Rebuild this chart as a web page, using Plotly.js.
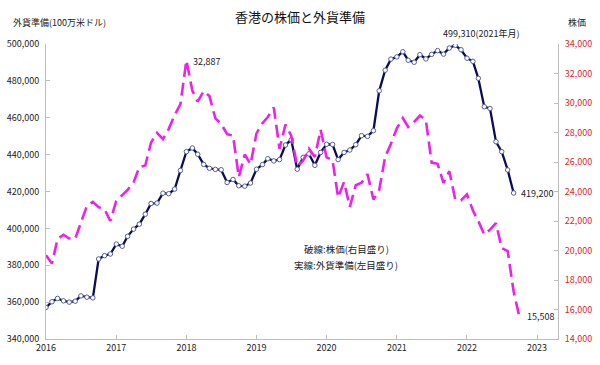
<!DOCTYPE html>
<html>
<head>
<meta charset="utf-8">
<script src="https://cdn.plot.ly/plotly-3.0.1.min.js"></script>
<style>html,body{margin:0;padding:0;background:#fff}#chart{width:600px;height:365px}</style>
</head>
<body>
<div id="chart"></div>
<script>
// Foreign currency reserves, HK (US$ million), Jan 2016 - Sep 2022 (left axis)
const reserves = [
  357100, 360200, 362000, 360700, 360000, 360500, 363400, 362700, 362300, 383400, 385200, 386100,
  391500, 390300, 395700, 399600, 402300, 407700, 413500, 413700, 419100, 418800, 421300, 431400,
  441600, 443600, 440200, 434700, 432600, 432000, 431800, 424900, 426500, 423100, 422900, 424600,
  432100, 434600, 437800, 436600, 437300, 445200, 448100, 432100, 438500, 440400, 434200, 441200,
  445600, 445500, 437300, 441200, 442500, 445400, 450300, 449900, 453000, 474600, 485800, 491800,
  493000, 495800, 491200, 490100, 494200, 491900, 494400, 496400, 494500, 497800, 499310, 496900,
  492300, 490600, 481400, 466000, 465000, 447000, 441600, 431700, 419200
];
// Stock index (right axis), Jan 2016 - Oct 2022
const stock = [
  19683, 19112, 20777, 21067, 20815, 20794, 21891, 23023, 23297, 22935, 22790, 22001,
  23361, 23741, 24112, 24615, 25661, 25765, 27323, 27970, 27554, 28246, 29177, 29919,
  32887, 30845, 30093, 30808, 30469, 28955, 28583, 27889, 27789, 24980, 26507, 25846,
  27942, 28633, 29051, 29699, 26901, 28543, 27778, 25725, 26092, 26907, 26346, 28190,
  26313, 26130, 23603, 24644, 22961, 24427, 24595, 25177, 23459, 24107, 26341, 27231,
  28284, 28980, 28378, 28725, 29152, 28828, 25961, 25879, 24576, 25377, 23475, 23398,
  23802, 22713, 21997, 21089, 21415, 21860, 20157, 19954, 17223, 15508
];
const startYear = 2016;
function monthList(n) {
  const out = [];
  for (let i = 0; i < n; i++) {
    const y = startYear + Math.floor(i / 12);
    const m = (i % 12) + 1;
    out.push(y + '-' + (m < 10 ? '0' + m : m) + '-01');
  }
  return out;
}
const resMonths = monthList(reserves.length);
const stockMonths = monthList(stock.length);

const titleText = '香港の株価と外貨準備';
const leftTitle = '外貨準備(100万米ドル)';
const rightTitle = '株価';
const note1 = '破線:株価(右目盛り)';
const note2 = '実線:外貨準備(左目盛り)';

const font = 'Noto Sans CJK JP, sans-serif';

const peakIdx = reserves.indexOf(Math.max(...reserves));
const stockPeakIdx = stock.indexOf(Math.max(...stock));
const fmt = v => v.toLocaleString('en-US');

const traces = [
  {
    x: stockMonths, y: stock, yaxis: 'y2', type: 'scatter', mode: 'lines',
    line: {color: '#ea22ea', width: 2.6, dash: '13px,6px'},
    hoverinfo: 'skip'
  },
  {
    x: resMonths, y: reserves, type: 'scatter', mode: 'lines+markers',
    line: {color: '#0b0b5c', width: 2.3},
    marker: {symbol: 'circle', size: 4.5, color: '#ffffff', line: {color: '#55609a', width: 1}},
    hoverinfo: 'skip'
  }
];

const axisCommon = {
  showgrid: false, zeroline: false, showline: true,
  linecolor: '#bdbdbd', linewidth: 1,
  ticks: 'inside', ticklen: 4, tickcolor: '#bdbdbd'
};

const layout = {
  width: 600, height: 365,
  margin: {l: 46, r: 42, t: 44, b: 26},
  paper_bgcolor: '#ffffff', plot_bgcolor: '#ffffff',
  showlegend: false,
  font: {family: font, size: 9, color: '#222'},
  title: {text: titleText, x: 0.5, xanchor: 'center', y: 1 - 17 / 365, yanchor: 'middle', yref: 'container',
          font: {family: font, size: 13, color: '#111'}},
  xaxis: Object.assign({}, axisCommon, {
    type: 'date', range: ['2016-01-01', '2023-04-20'],
    dtick: 'M12', tick0: '2016-01-01', tickformat: '%Y',
    tickfont: {family: font, size: 9, color: '#222'}
  }),
  yaxis: Object.assign({}, axisCommon, {
    range: [340000, 500000], dtick: 20000, tickformat: ',d',
    tickfont: {family: font, size: 9, color: '#222'}, ticklabelstandoff: 4
  }),
  yaxis2: Object.assign({}, axisCommon, {
    overlaying: 'y', side: 'right',
    range: [14000, 34000], dtick: 2000, tickformat: ',d',
    tickfont: {family: font, size: 9, color: '#e0262b'}, ticklabelstandoff: 4
  }),
  annotations: [
    {xref: 'paper', yref: 'paper', x: (11 - 46) / 512, y: (339 - 22) / 295, xanchor: 'left', yanchor: 'middle',
     text: leftTitle, showarrow: false, font: {family: font, size: 9, color: '#222'}},
    {xref: 'paper', yref: 'paper', x: (577 - 46) / 512, y: (339 - 22) / 295, xanchor: 'center', yanchor: 'middle',
     text: rightTitle, showarrow: false, font: {family: font, size: 9, color: '#222'}},
    {xref: 'paper', yref: 'paper', x: (346 - 46) / 512, y: (339 - 249) / 295, xanchor: 'center', yanchor: 'middle',
     text: note1, showarrow: false, font: {family: font, size: 9.5, color: '#222'}},
    {xref: 'paper', yref: 'paper', x: (346 - 46) / 512, y: (339 - 265) / 295, xanchor: 'center', yanchor: 'middle',
     text: note2, showarrow: false, font: {family: font, size: 9.5, color: '#222'}},
    {xref: 'x', yref: 'y2', x: stockMonths[stockPeakIdx], y: stock[stockPeakIdx], xanchor: 'left', yanchor: 'middle',
     xshift: 5, yshift: -1, text: fmt(stock[stockPeakIdx]), showarrow: false, font: {family: font, size: 9, color: '#222'}},
    {xref: 'x', yref: 'y', x: resMonths[peakIdx], y: reserves[peakIdx], xanchor: 'center', yanchor: 'middle',
     xshift: 26, yshift: 12, text: fmt(reserves[peakIdx]) + '(2021年月)', showarrow: false, font: {family: font, size: 9, color: '#222'}},
    {xref: 'x', yref: 'y', x: resMonths[reserves.length - 1], y: reserves[reserves.length - 1], xanchor: 'left', yanchor: 'middle',
     xshift: 5, yshift: -1, text: fmt(reserves[reserves.length - 1]), showarrow: false, font: {family: font, size: 9, color: '#222'}},
    {xref: 'x', yref: 'y2', x: stockMonths[stock.length - 1], y: stock[stock.length - 1], xanchor: 'left', yanchor: 'middle',
     xshift: 6, text: fmt(stock[stock.length - 1]), showarrow: false, font: {family: font, size: 9, color: '#222'}}
  ]
};

Plotly.newPlot('chart', traces, layout, {staticPlot: true, displayModeBar: false});
</script>
</body>
</html>
